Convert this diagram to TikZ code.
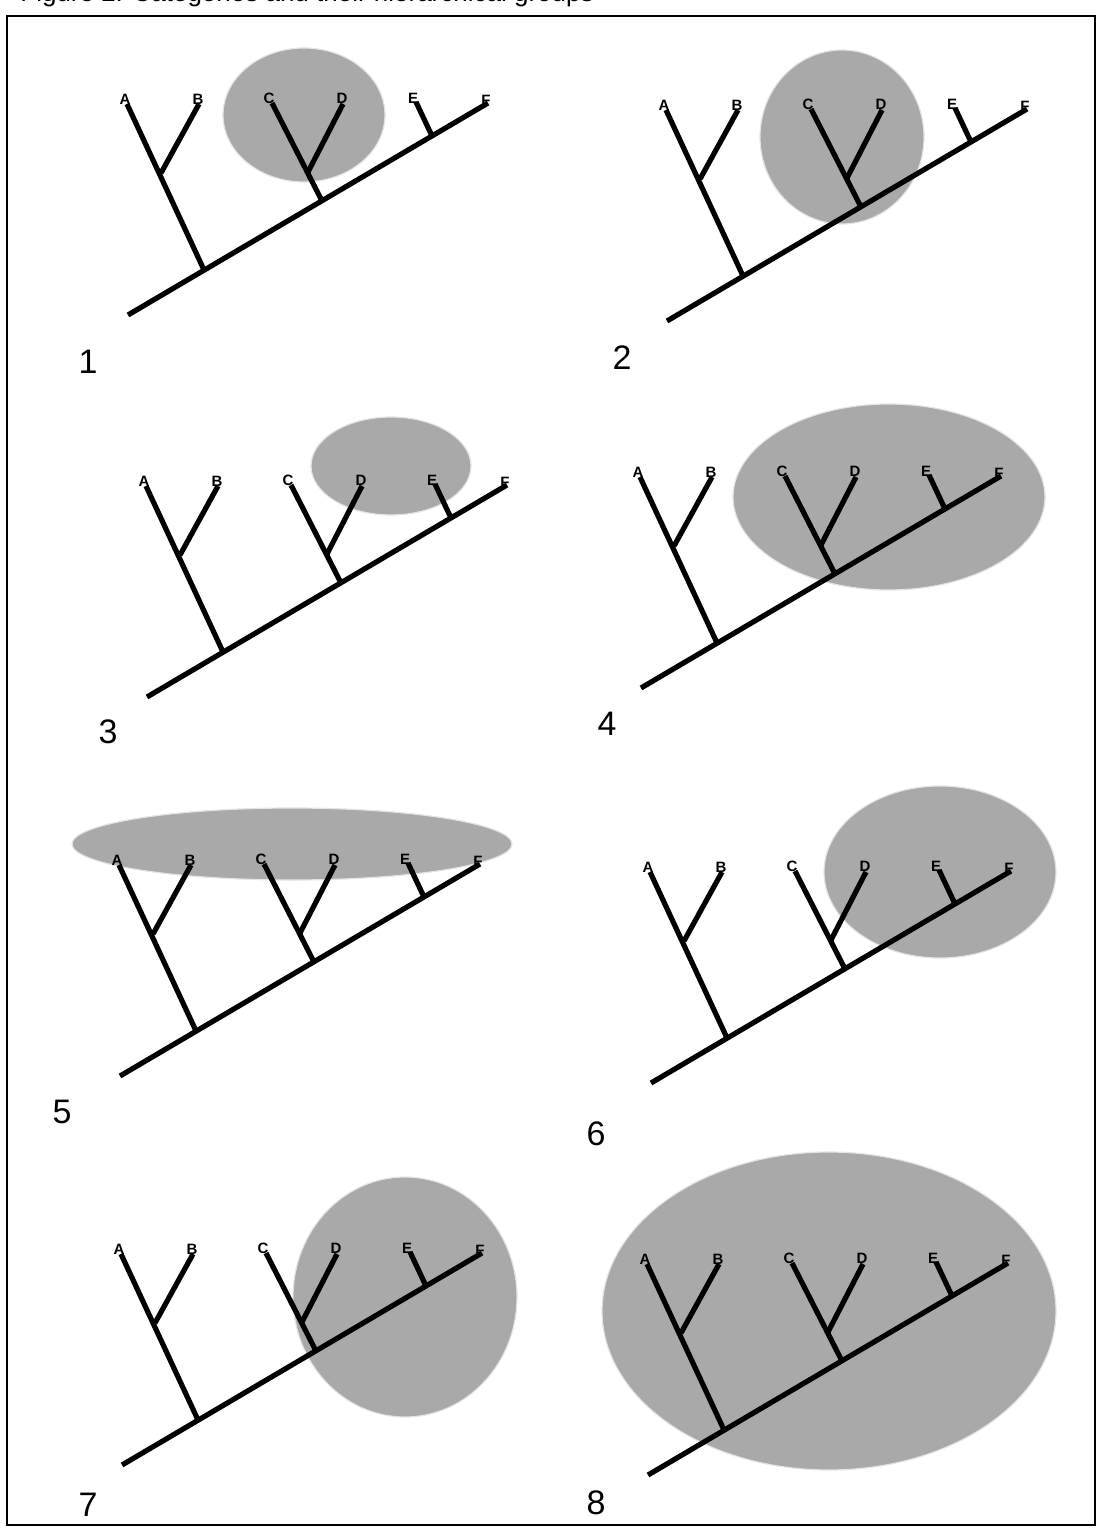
\documentclass[tikz,border=0pt]{standalone}
\usepackage{fontspec}
\setmainfont{Liberation Sans}
\usepackage{tikz}
\usetikzlibrary{positioning}
\usepackage{xcolor}
\definecolor{cladefill}{HTML}{A9A9A9}
\definecolor{claderim}{HTML}{E4E4E4}
\tikzset{
  branch/.style={line width=2.6pt, line cap=butt},
  taxon/.style={font=\bfseries\fontsize{7.5}{8}\selectfont, inner sep=0pt},
  panelno/.style={font=\fontsize{17}{20}\selectfont, inner sep=0pt},
  clade/.style={fill=cladefill, draw=claderim, line width=0.6pt},
  framebox/.style={line width=1pt},
  caption/.style={font=\fontsize{13}{15}\selectfont, inner sep=0pt},
}

\begin{document}
\begin{tikzpicture}[x=0.5pt,y=-0.5pt]
\useasboundingbox (0,0) rectangle (1099,1529);
% caption, cut by the top edge
\node[caption, anchor=base west] (title) at (20,1.5) {Figure 2. Categories and their hierarchical groups};
\draw[framebox] (7,16) rectangle (1095,1525);
% the eight panels: root, shaded group, panel number
\foreach \p/\x/\y/\cx/\cy/\rx/\ry/\nx/\ny in {
    1/128/315/304/115/81/67/88/362,
    2/667/321/842/137/82/87/622/358,
    3/147/697/391/466/80/49/108/732,
    4/641/688/889/497/156/93/607/724,
    5/120/1076/292/844/220/36/62/1112,
    6/651/1083/940/872/116/86/596/1134,
    7/122/1465/405/1297/112/120/88/1505,
    8/648/1475/829/1311/227/159/596/1503} {
  \fill[clade] (\cx,\cy) ellipse [x radius={\rx*0.5pt}, y radius={\ry*0.5pt}];
  \node[panelno] (num\p) at (\nx,\ny) {\p};
  \begin{scope}[shift={(\x,\y)}]
    \coordinate (r\p) at (0,0);
    \coordinate (f\p) at (360,-212);
    \coordinate (ab\p) at (76,-45);
    \coordinate (abn\p) at (33,-142);
    \coordinate (a\p) at (-1,-211);
    \coordinate (b\p) at (71,-211);
    \coordinate (cd\p) at (194,-114);
    \coordinate (cdn\p) at (180,-143);
    \coordinate (c\p) at (144,-212);
    \coordinate (d\p) at (215,-211);
    \coordinate (e\p) at (304,-179);
    \coordinate (et\p) at (288,-213);
    \node[taxon] (lA\p) at (-3,-216) {A};
    \node[taxon] (lB\p) at (70,-216) {B};
    \node[taxon] (lC\p) at (141,-217) {C};
    \node[taxon] (lD\p) at (214,-217) {D};
    \node[taxon] (lE\p) at (285,-217) {E};
    \node[taxon] (lF\p) at (358,-215) {F};
    \draw[branch] (r\p) -- (f\p);
    \draw[branch] (ab\p) -- (a\p);
    \draw[branch] (abn\p) -- (b\p);
    \draw[branch] (cd\p) -- (c\p);
    \draw[branch] (cdn\p) -- (d\p);
    \draw[branch] (e\p) -- (et\p);
  \end{scope}
}
\end{tikzpicture}
\end{document}
